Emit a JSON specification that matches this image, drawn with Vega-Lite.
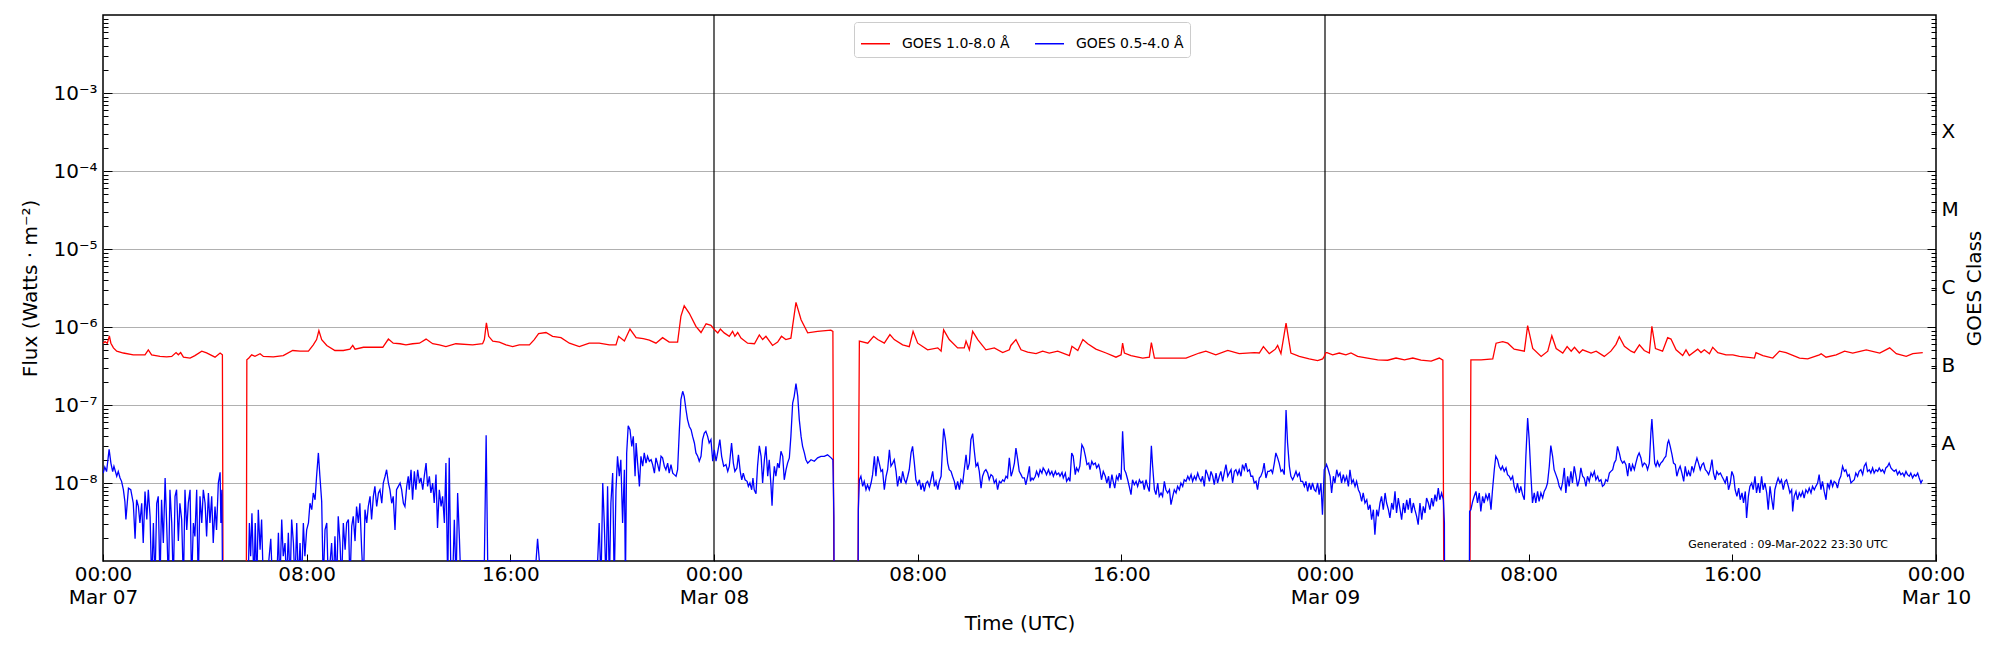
{
  "$schema": "https://vega.github.io/schema/vega-lite/v6.json",
  "width": 1833,
  "height": 546,
  "autosize": {"type": "none"},
  "padding": {"left": 103, "top": 15, "right": 64, "bottom": 89},
  "background": "white",
  "datasets": {
    "days": [{"h": 24}, {"h": 48}],
    "note": [{"h": 66.19, "f": 1.62e-9, "label": "Generated : 09-Mar-2022 23:30 UTC"}],
    "red": [
      {"h":0.01,"f":6.2e-7},{"h":0.08,"f":6.5e-7},{"h":0.17,"f":6.2e-7},{"h":0.25,"f":7.7e-7},{"h":0.31,"f":6.2e-7},{"h":0.41,"f":5.4e-7},{"h":0.54,"f":4.9e-7},{"h":0.8,"f":4.64e-7},{"h":1.19,"f":4.4e-7},{"h":1.65,"f":4.4e-7},{"h":1.78,"f":5.1e-7},{"h":1.91,"f":4.4e-7},{"h":2.24,"f":4.2e-7},{"h":2.5,"f":4.15e-7},{"h":2.7,"f":4.2e-7},{"h":2.87,"f":4.7e-7},{"h":2.96,"f":4.4e-7},{"h":3.05,"f":4.7e-7},{"h":3.16,"f":4.1e-7},{"h":3.42,"f":4.0e-7},{"h":3.61,"f":4.3e-7},{"h":3.88,"f":4.9e-7},{"h":4.07,"f":4.65e-7},{"h":4.4,"f":4.1e-7},{"h":4.6,"f":4.64e-7},{"h":4.69,"f":4.4e-7},{"h":4.73,"f":1e-11},{"h":5.62,"f":1e-11},{"h":5.65,"f":3.8e-7},{"h":5.73,"f":4.0e-7},{"h":5.84,"f":4.4e-7},{"h":5.97,"f":4.2e-7},{"h":6.17,"f":4.55e-7},{"h":6.3,"f":4.2e-7},{"h":6.69,"f":4.15e-7},{"h":7.08,"f":4.3e-7},{"h":7.45,"f":5.0e-7},{"h":7.74,"f":4.9e-7},{"h":8.07,"f":4.9e-7},{"h":8.26,"f":5.9e-7},{"h":8.39,"f":6.9e-7},{"h":8.48,"f":9.0e-7},{"h":8.59,"f":6.9e-7},{"h":8.79,"f":5.8e-7},{"h":9.11,"f":5.0e-7},{"h":9.44,"f":5.0e-7},{"h":9.7,"f":5.2e-7},{"h":9.81,"f":5.8e-7},{"h":9.9,"f":5.2e-7},{"h":10.23,"f":5.5e-7},{"h":10.75,"f":5.5e-7},{"h":10.99,"f":5.5e-7},{"h":11.21,"f":7.0e-7},{"h":11.4,"f":6.2e-7},{"h":11.67,"f":6.1e-7},{"h":11.9,"f":5.9e-7},{"h":12.16,"f":6.1e-7},{"h":12.43,"f":6.2e-7},{"h":12.69,"f":7.0e-7},{"h":12.95,"f":6.1e-7},{"h":13.21,"f":5.9e-7},{"h":13.47,"f":5.6e-7},{"h":13.86,"f":6.1e-7},{"h":14.52,"f":5.9e-7},{"h":14.91,"f":6.1e-7},{"h":14.98,"f":6.9e-7},{"h":15.06,"f":1.13e-6},{"h":15.15,"f":7.6e-7},{"h":15.31,"f":6.6e-7},{"h":15.57,"f":6.4e-7},{"h":15.83,"f":5.9e-7},{"h":16.09,"f":5.6e-7},{"h":16.35,"f":5.9e-7},{"h":16.75,"f":5.9e-7},{"h":16.94,"f":6.9e-7},{"h":17.11,"f":8.2e-7},{"h":17.4,"f":8.5e-7},{"h":17.66,"f":7.6e-7},{"h":17.99,"f":7.3e-7},{"h":18.32,"f":6.2e-7},{"h":18.71,"f":5.6e-7},{"h":19.1,"f":6.2e-7},{"h":19.49,"f":6.2e-7},{"h":19.89,"f":5.9e-7},{"h":20.15,"f":5.9e-7},{"h":20.25,"f":7.6e-7},{"h":20.48,"f":6.6e-7},{"h":20.7,"f":9.4e-7},{"h":20.94,"f":7.3e-7},{"h":21.22,"f":7.1e-7},{"h":21.46,"f":6.8e-7},{"h":21.72,"f":6.2e-7},{"h":21.98,"f":7.3e-7},{"h":22.24,"f":6.4e-7},{"h":22.57,"f":6.4e-7},{"h":22.7,"f":1.37e-6},{"h":22.83,"f":1.87e-6},{"h":23.03,"f":1.5e-6},{"h":23.29,"f":1.02e-6},{"h":23.49,"f":8.5e-7},{"h":23.69,"f":1.1e-6},{"h":23.88,"f":1.05e-6},{"h":24.01,"f":9.3e-7},{"h":24.15,"f":8.4e-7},{"h":24.25,"f":9.4e-7},{"h":24.4,"f":8.4e-7},{"h":24.6,"f":7.6e-7},{"h":24.73,"f":8.8e-7},{"h":24.82,"f":7.6e-7},{"h":24.93,"f":8.5e-7},{"h":25.06,"f":7.2e-7},{"h":25.32,"f":6.2e-7},{"h":25.59,"f":6.1e-7},{"h":25.78,"f":7.9e-7},{"h":25.91,"f":6.9e-7},{"h":26.04,"f":7.6e-7},{"h":26.3,"f":5.8e-7},{"h":26.5,"f":6.4e-7},{"h":26.65,"f":7.6e-7},{"h":26.82,"f":6.9e-7},{"h":27.02,"f":7.2e-7},{"h":27.22,"f":2.07e-6},{"h":27.42,"f":1.24e-6},{"h":27.68,"f":8.4e-7},{"h":28.07,"f":8.8e-7},{"h":28.59,"f":9.1e-7},{"h":28.67,"f":8.8e-7},{"h":28.73,"f":1e-11},{"h":29.62,"f":1e-11},{"h":29.71,"f":6.6e-7},{"h":30.04,"f":6.2e-7},{"h":30.27,"f":7.6e-7},{"h":30.43,"f":6.9e-7},{"h":30.69,"f":6.2e-7},{"h":30.91,"f":8.0e-7},{"h":31.08,"f":6.9e-7},{"h":31.41,"f":5.9e-7},{"h":31.67,"f":5.6e-7},{"h":31.82,"f":8.8e-7},{"h":32.0,"f":6.2e-7},{"h":32.39,"f":5.1e-7},{"h":32.79,"f":5.4e-7},{"h":32.92,"f":4.9e-7},{"h":33.02,"f":9.2e-7},{"h":33.24,"f":6.9e-7},{"h":33.57,"f":5.4e-7},{"h":33.83,"f":5.4e-7},{"h":33.9,"f":6.6e-7},{"h":34.03,"f":5.1e-7},{"h":34.16,"f":8.8e-7},{"h":34.36,"f":6.9e-7},{"h":34.68,"f":5.1e-7},{"h":35.01,"f":5.4e-7},{"h":35.34,"f":4.7e-7},{"h":35.6,"f":5.1e-7},{"h":35.66,"f":5.8e-7},{"h":35.86,"f":6.9e-7},{"h":36.06,"f":5.1e-7},{"h":36.32,"f":4.75e-7},{"h":36.65,"f":4.55e-7},{"h":36.91,"f":4.9e-7},{"h":37.17,"f":4.64e-7},{"h":37.5,"f":4.9e-7},{"h":37.96,"f":4.3e-7},{"h":38.06,"f":5.65e-7},{"h":38.29,"f":5.0e-7},{"h":38.49,"f":6.9e-7},{"h":38.68,"f":6.1e-7},{"h":39.0,"f":5.2e-7},{"h":39.4,"f":4.64e-7},{"h":39.79,"f":4.1e-7},{"h":39.99,"f":4.4e-7},{"h":40.05,"f":6.2e-7},{"h":40.12,"f":4.64e-7},{"h":40.38,"f":4.3e-7},{"h":40.84,"f":4.0e-7},{"h":41.1,"f":4.1e-7},{"h":41.18,"f":6.3e-7},{"h":41.3,"f":4.0e-7},{"h":41.62,"f":4.0e-7},{"h":42.01,"f":4.0e-7},{"h":42.54,"f":4.0e-7},{"h":43.06,"f":4.64e-7},{"h":43.32,"f":4.9e-7},{"h":43.71,"f":4.4e-7},{"h":44.18,"f":5.0e-7},{"h":44.63,"f":4.55e-7},{"h":45.22,"f":4.7e-7},{"h":45.42,"f":4.64e-7},{"h":45.58,"f":5.6e-7},{"h":45.81,"f":4.55e-7},{"h":46.05,"f":5.2e-7},{"h":46.14,"f":5.8e-7},{"h":46.27,"f":4.55e-7},{"h":46.47,"f":1.12e-6},{"h":46.66,"f":4.64e-7},{"h":46.99,"f":4.2e-7},{"h":47.38,"f":3.9e-7},{"h":47.71,"f":3.7e-7},{"h":47.91,"f":3.9e-7},{"h":47.97,"f":4.2e-7},{"h":48.04,"f":4.7e-7},{"h":48.08,"f":4.7e-7},{"h":48.3,"f":4.4e-7},{"h":48.56,"f":4.64e-7},{"h":48.82,"f":4.4e-7},{"h":49.02,"f":4.64e-7},{"h":49.28,"f":4.2e-7},{"h":49.67,"f":4.0e-7},{"h":50.07,"f":3.8e-7},{"h":50.46,"f":3.75e-7},{"h":50.79,"f":4.0e-7},{"h":51.12,"f":3.8e-7},{"h":51.45,"f":4.0e-7},{"h":51.77,"f":3.75e-7},{"h":52.17,"f":3.65e-7},{"h":52.49,"f":4.0e-7},{"h":52.63,"f":3.75e-7},{"h":52.69,"f":1e-11},{"h":53.67,"f":1e-11},{"h":53.73,"f":3.8e-7},{"h":54.13,"f":3.8e-7},{"h":54.59,"f":3.9e-7},{"h":54.72,"f":6.2e-7},{"h":54.98,"f":6.5e-7},{"h":55.18,"f":6.2e-7},{"h":55.43,"f":5.2e-7},{"h":55.83,"f":4.9e-7},{"h":55.96,"f":1.04e-6},{"h":56.16,"f":5.3e-7},{"h":56.49,"f":4.2e-7},{"h":56.75,"f":4.9e-7},{"h":56.91,"f":7.7e-7},{"h":57.08,"f":5.3e-7},{"h":57.34,"f":4.64e-7},{"h":57.51,"f":5.6e-7},{"h":57.67,"f":4.9e-7},{"h":57.8,"f":5.5e-7},{"h":57.99,"f":4.64e-7},{"h":58.12,"f":5.1e-7},{"h":58.45,"f":4.64e-7},{"h":58.65,"f":4.9e-7},{"h":58.97,"f":4.2e-7},{"h":59.23,"f":4.9e-7},{"h":59.43,"f":6.0e-7},{"h":59.56,"f":7.5e-7},{"h":59.76,"f":5.65e-7},{"h":60.02,"f":4.9e-7},{"h":60.15,"f":4.7e-7},{"h":60.35,"f":5.9e-7},{"h":60.54,"f":5.0e-7},{"h":60.74,"f":4.64e-7},{"h":60.84,"f":1.02e-6},{"h":60.98,"f":5.3e-7},{"h":61.26,"f":4.9e-7},{"h":61.46,"f":7.3e-7},{"h":61.59,"f":7.0e-7},{"h":61.79,"f":5.1e-7},{"h":62.05,"f":4.3e-7},{"h":62.18,"f":5.1e-7},{"h":62.31,"f":4.3e-7},{"h":62.64,"f":5.2e-7},{"h":62.77,"f":4.7e-7},{"h":62.9,"f":5.1e-7},{"h":63.1,"f":4.55e-7},{"h":63.23,"f":5.5e-7},{"h":63.43,"f":4.7e-7},{"h":63.75,"f":4.4e-7},{"h":64.02,"f":4.4e-7},{"h":64.28,"f":4.2e-7},{"h":64.87,"f":4.0e-7},{"h":64.93,"f":4.7e-7},{"h":65.2,"f":4.3e-7},{"h":65.59,"f":4.0e-7},{"h":65.85,"f":4.9e-7},{"h":66.11,"f":4.7e-7},{"h":66.64,"f":4.0e-7},{"h":66.96,"f":3.9e-7},{"h":67.42,"f":4.4e-7},{"h":67.49,"f":4.55e-7},{"h":67.68,"f":4.1e-7},{"h":68.08,"f":4.4e-7},{"h":68.41,"f":4.9e-7},{"h":68.73,"f":4.64e-7},{"h":69.26,"f":5.1e-7},{"h":69.79,"f":4.64e-7},{"h":70.18,"f":5.4e-7},{"h":70.44,"f":4.55e-7},{"h":70.83,"f":4.2e-7},{"h":71.09,"f":4.55e-7},{"h":71.48,"f":4.7e-7}
    ],
    "blue": [
      {"h":0.01,"f":1.34e-8},{"h":0.07,"f":1.6e-8},{"h":0.14,"f":1.4e-8},{"h":0.24,"f":2.7e-8},{"h":0.31,"f":1.8e-8},{"h":0.38,"f":1.4e-8},{"h":0.43,"f":1.64e-8},{"h":0.54,"f":1.22e-8},{"h":0.6,"f":1.4e-8},{"h":0.67,"f":1.16e-8},{"h":0.73,"f":1.05e-8},{"h":0.8,"f":8.2e-9},{"h":0.86,"f":5.8e-9},{"h":0.9,"f":3.4e-9},{"h":1.0,"f":8.6e-9},{"h":1.09,"f":8.2e-9},{"h":1.19,"f":5.5e-9},{"h":1.26,"f":1.93e-9},{"h":1.32,"f":6.1e-9},{"h":1.39,"f":5.0e-9},{"h":1.45,"f":3.07e-9},{"h":1.52,"f":5.5e-9},{"h":1.58,"f":1.7e-9},{"h":1.65,"f":7.8e-9},{"h":1.72,"f":3.4e-9},{"h":1.78,"f":8.2e-9},{"h":1.85,"f":3.7e-9},{"h":1.91,"f":5e-10},{"h":1.98,"f":3.07e-9},{"h":2.04,"f":5e-10},{"h":2.11,"f":5.5e-9},{"h":2.17,"f":6.75e-9},{"h":2.24,"f":5e-10},{"h":2.3,"f":6.1e-9},{"h":2.37,"f":1.7e-9},{"h":2.44,"f":1.16e-8},{"h":2.5,"f":3.07e-9},{"h":2.57,"f":5e-10},{"h":2.63,"f":8.2e-9},{"h":2.7,"f":3.07e-9},{"h":2.76,"f":5e-10},{"h":2.83,"f":6.75e-9},{"h":2.89,"f":8.2e-9},{"h":2.96,"f":1.8e-9},{"h":3.02,"f":5.5e-9},{"h":3.09,"f":3.4e-9},{"h":3.16,"f":5e-10},{"h":3.22,"f":8.2e-9},{"h":3.29,"f":2.5e-9},{"h":3.35,"f":5.5e-9},{"h":3.42,"f":8.2e-9},{"h":3.48,"f":5e-10},{"h":3.55,"f":3.07e-9},{"h":3.61,"f":2.07e-9},{"h":3.68,"f":8.2e-9},{"h":3.74,"f":5e-10},{"h":3.81,"f":6.75e-9},{"h":3.88,"f":3.07e-9},{"h":3.94,"f":8.2e-9},{"h":4.01,"f":5.5e-9},{"h":4.07,"f":2.07e-9},{"h":4.14,"f":7.45e-9},{"h":4.2,"f":3.07e-9},{"h":4.27,"f":6.75e-9},{"h":4.33,"f":1.7e-9},{"h":4.4,"f":5.0e-9},{"h":4.46,"f":2.5e-9},{"h":4.53,"f":1.0e-8},{"h":4.6,"f":1.37e-8},{"h":4.63,"f":3.07e-9},{"h":4.67,"f":8.2e-9},{"h":4.73,"f":1e-11},{"h":5.64,"f":1e-11},{"h":5.7,"f":5e-10},{"h":5.75,"f":3.07e-9},{"h":5.8,"f":1.15e-9},{"h":5.85,"f":4.1e-9},{"h":5.93,"f":5e-10},{"h":5.98,"f":3.07e-9},{"h":6.04,"f":5e-10},{"h":6.1,"f":4.55e-9},{"h":6.17,"f":1.4e-9},{"h":6.23,"f":3.4e-9},{"h":6.3,"f":5e-10},{"h":6.43,"f":5e-10},{"h":6.59,"f":1.93e-9},{"h":6.66,"f":5e-10},{"h":6.82,"f":5e-10},{"h":6.89,"f":2.3e-9},{"h":6.95,"f":5e-10},{"h":7.02,"f":3.4e-9},{"h":7.08,"f":1.15e-9},{"h":7.15,"f":1.7e-9},{"h":7.21,"f":5e-10},{"h":7.28,"f":2.3e-9},{"h":7.35,"f":5e-10},{"h":7.41,"f":3.4e-9},{"h":7.48,"f":1.7e-9},{"h":7.54,"f":5e-10},{"h":7.61,"f":3.07e-9},{"h":7.67,"f":5e-10},{"h":7.74,"f":1.7e-9},{"h":7.8,"f":5e-10},{"h":7.87,"f":3.07e-9},{"h":7.93,"f":1.15e-9},{"h":8.0,"f":2.5e-9},{"h":8.07,"f":3.07e-9},{"h":8.13,"f":5.5e-9},{"h":8.2,"f":4.55e-9},{"h":8.26,"f":7.45e-9},{"h":8.33,"f":6.1e-9},{"h":8.39,"f":1.22e-8},{"h":8.46,"f":2.43e-8},{"h":8.52,"f":1.22e-8},{"h":8.59,"f":5.8e-9},{"h":8.65,"f":5e-10},{"h":8.72,"f":2.5e-9},{"h":8.79,"f":3.07e-9},{"h":8.85,"f":5e-10},{"h":8.98,"f":1.7e-9},{"h":9.05,"f":5e-10},{"h":9.11,"f":2.07e-9},{"h":9.18,"f":5e-10},{"h":9.24,"f":3.74e-9},{"h":9.31,"f":1.7e-9},{"h":9.37,"f":5e-10},{"h":9.44,"f":3.07e-9},{"h":9.51,"f":1.4e-9},{"h":9.57,"f":3.07e-9},{"h":9.64,"f":3.4e-9},{"h":9.7,"f":5e-10},{"h":9.77,"f":2.8e-9},{"h":9.83,"f":3.74e-9},{"h":9.9,"f":1.8e-9},{"h":9.96,"f":5.0e-9},{"h":10.03,"f":3.07e-9},{"h":10.09,"f":5.5e-9},{"h":10.16,"f":1.4e-9},{"h":10.23,"f":5e-10},{"h":10.29,"f":4.55e-9},{"h":10.36,"f":3.07e-9},{"h":10.42,"f":5.0e-9},{"h":10.49,"f":6.75e-9},{"h":10.55,"f":3.4e-9},{"h":10.62,"f":6.75e-9},{"h":10.68,"f":9.06e-9},{"h":10.75,"f":5.0e-9},{"h":10.82,"f":7.45e-9},{"h":10.88,"f":8.2e-9},{"h":10.95,"f":5.5e-9},{"h":11.01,"f":1.0e-8},{"h":11.08,"f":1.22e-8},{"h":11.14,"f":1.48e-8},{"h":11.21,"f":1.0e-8},{"h":11.27,"f":8.2e-9},{"h":11.34,"f":5.5e-9},{"h":11.4,"f":6.75e-9},{"h":11.47,"f":2.5e-9},{"h":11.53,"f":8.2e-9},{"h":11.6,"f":9.06e-9},{"h":11.67,"f":1.0e-8},{"h":11.73,"f":8.2e-9},{"h":11.8,"f":5.5e-9},{"h":11.86,"f":5.0e-9},{"h":11.93,"f":9.06e-9},{"h":11.99,"f":1.22e-8},
      {"h":12.03,"f":8.2e-9},{"h":12.1,"f":1.48e-8},{"h":12.16,"f":6.1e-9},{"h":12.23,"f":1.41e-8},{"h":12.29,"f":8.2e-9},{"h":12.36,"f":1.48e-8},{"h":12.43,"f":1.0e-8},{"h":12.49,"f":1.16e-8},{"h":12.56,"f":8.2e-9},{"h":12.62,"f":1.22e-8},{"h":12.69,"f":1.8e-8},{"h":12.75,"f":9.06e-9},{"h":12.82,"f":1.22e-8},{"h":12.88,"f":7.45e-9},{"h":12.95,"f":1.0e-8},{"h":13.01,"f":5.54e-9},{"h":13.08,"f":1.28e-8},{"h":13.14,"f":2.65e-9},{"h":13.21,"f":8.2e-9},{"h":13.28,"f":5.02e-9},{"h":13.34,"f":6.75e-9},{"h":13.41,"f":3.07e-9},{"h":13.47,"f":1.8e-8},{"h":13.54,"f":5e-10},{"h":13.6,"f":2.1e-8},{"h":13.67,"f":5e-10},{"h":13.73,"f":5e-10},{"h":13.8,"f":3.39e-9},{"h":13.87,"f":5e-10},{"h":13.93,"f":7.45e-9},{"h":14.0,"f":1.93e-9},{"h":14.06,"f":5e-10},{"h":14.13,"f":1e-9},{"h":14.98,"f":1e-9},{"h":15.05,"f":4.1e-8},{"h":15.11,"f":1e-9},{"h":17.01,"f":1e-9},{"h":17.07,"f":1.93e-9},{"h":17.14,"f":1e-9},{"h":19.43,"f":1e-9},{"h":19.49,"f":3.07e-9},{"h":19.56,"f":5e-10},{"h":19.63,"f":1.0e-8},{"h":19.69,"f":3.07e-9},{"h":19.76,"f":5e-10},{"h":19.82,"f":9.06e-9},{"h":19.89,"f":5e-10},{"h":19.95,"f":5.54e-9},{"h":20.02,"f":1.34e-8},{"h":20.08,"f":5e-10},{"h":20.15,"f":8.2e-9},{"h":20.21,"f":2.2e-8},{"h":20.28,"f":1.22e-8},{"h":20.34,"f":1.99e-8},{"h":20.41,"f":3.07e-9},{"h":20.48,"f":1.48e-8},{"h":20.52,"f":5e-10},{"h":20.57,"f":2.43e-8},{"h":20.63,"f":5.4e-8},{"h":20.7,"f":4.83e-8},{"h":20.77,"f":2.95e-8},{"h":20.83,"f":3.96e-8},{"h":20.9,"f":1.22e-8},{"h":20.94,"f":3.26e-8},{"h":21.0,"f":1.8e-8},{"h":21.07,"f":9.06e-9},{"h":21.13,"f":2.2e-8},{"h":21.2,"f":1.64e-8},{"h":21.26,"f":2.43e-8},{"h":21.33,"f":1.8e-8},{"h":21.39,"f":2.2e-8},{"h":21.46,"f":1.9e-8},{"h":21.53,"f":1.99e-8},{"h":21.59,"f":1.72e-8},{"h":21.66,"f":1.34e-8},{"h":21.72,"f":2.1e-8},{"h":21.79,"f":1.72e-8},{"h":21.85,"f":1.41e-8},{"h":21.92,"f":2.2e-8},{"h":21.98,"f":2.1e-8},{"h":22.05,"f":1.64e-8},{"h":22.11,"f":1.48e-8},{"h":22.18,"f":1.8e-8},{"h":22.24,"f":1.34e-8},{"h":22.31,"f":1.72e-8},{"h":22.38,"f":1.34e-8},{"h":22.44,"f":1.28e-8},{"h":22.51,"f":1.22e-8},{"h":22.57,"f":1.48e-8},{"h":22.64,"f":4.83e-8},{"h":22.7,"f":1.17e-7},{"h":22.77,"f":1.5e-7},{"h":22.83,"f":1.29e-7},{"h":22.9,"f":8.7e-8},{"h":22.96,"f":6.5e-8},{"h":23.03,"f":5.3e-8},{"h":23.1,"f":4.83e-8},{"h":23.16,"f":3.96e-8},{"h":23.23,"f":3.26e-8},{"h":23.29,"f":2.43e-8},{"h":23.36,"f":2.2e-8},{"h":23.42,"f":1.9e-8},{"h":23.49,"f":2.2e-8},{"h":23.55,"f":3.6e-8},{"h":23.62,"f":4.38e-8},{"h":23.68,"f":4.6e-8},{"h":23.75,"f":3.96e-8},{"h":23.81,"f":3.26e-8},{"h":23.88,"f":3.6e-8},
      {"h":23.95,"f":1.9e-8},{"h":24.01,"f":2.67e-8},{"h":24.08,"f":1.9e-8},{"h":24.14,"f":2.43e-8},{"h":24.23,"f":3.6e-8},{"h":24.3,"f":2.2e-8},{"h":24.38,"f":1.64e-8},{"h":24.47,"f":1.72e-8},{"h":24.54,"f":1.41e-8},{"h":24.6,"f":1.64e-8},{"h":24.69,"f":3.26e-8},{"h":24.76,"f":1.8e-8},{"h":24.82,"f":1.41e-8},{"h":24.9,"f":1.56e-8},{"h":24.96,"f":2.3e-8},{"h":25.03,"f":1.41e-8},{"h":25.09,"f":1.1e-8},{"h":25.15,"f":1.34e-8},{"h":25.22,"f":1.1e-8},{"h":25.3,"f":1.05e-8},{"h":25.35,"f":9.06e-9},{"h":25.41,"f":1.0e-8},{"h":25.48,"f":8.2e-9},{"h":25.53,"f":1.16e-8},{"h":25.58,"f":8.2e-9},{"h":25.65,"f":7.3e-9},{"h":25.71,"f":1.64e-8},{"h":25.78,"f":3.0e-8},{"h":25.85,"f":2.2e-8},{"h":25.91,"f":1.0e-8},{"h":25.98,"f":1.99e-8},{"h":26.04,"f":2.95e-8},{"h":26.11,"f":1.22e-8},{"h":26.17,"f":1.99e-8},{"h":26.24,"f":9.06e-9},{"h":26.28,"f":5.12e-9},{"h":26.32,"f":1.0e-8},{"h":26.37,"f":1.64e-8},{"h":26.43,"f":1.22e-8},{"h":26.5,"f":1.8e-8},{"h":26.56,"f":1.56e-8},{"h":26.63,"f":2.55e-8},{"h":26.7,"f":2.2e-8},{"h":26.76,"f":1.1e-8},{"h":26.83,"f":1.48e-8},{"h":26.89,"f":1.8e-8},{"h":26.96,"f":2.1e-8},{"h":27.02,"f":3.96e-8},{"h":27.09,"f":1.06e-7},{"h":27.15,"f":1.29e-7},{"h":27.22,"f":1.88e-7},{"h":27.29,"f":1.29e-7},{"h":27.35,"f":6.5e-8},{"h":27.42,"f":3.96e-8},{"h":27.48,"f":2.95e-8},{"h":27.55,"f":2.43e-8},{"h":27.61,"f":1.99e-8},{"h":27.68,"f":1.8e-8},{"h":27.81,"f":1.99e-8},{"h":27.94,"f":1.9e-8},{"h":28.07,"f":2.1e-8},{"h":28.2,"f":2.2e-8},{"h":28.33,"f":2.2e-8},{"h":28.46,"f":2.3e-8},{"h":28.6,"f":2.1e-8},{"h":28.67,"f":1.99e-8},{"h":28.71,"f":3.74e-9},{"h":28.73,"f":1e-11},{"h":29.64,"f":1e-11},{"h":29.67,"f":4.55e-9},{"h":29.71,"f":1.1e-8},{"h":29.77,"f":1.22e-8},{"h":29.84,"f":9.06e-9},{"h":29.9,"f":1.05e-8},{"h":29.97,"f":8.2e-9},{"h":30.03,"f":9.5e-9},{"h":30.1,"f":8.2e-9},{"h":30.17,"f":1.0e-8},{"h":30.23,"f":1.28e-8},{"h":30.3,"f":2.2e-8},{"h":30.36,"f":1.22e-8},{"h":30.43,"f":2.2e-8},{"h":30.49,"f":1.8e-8},{"h":30.56,"f":1.41e-8},{"h":30.62,"f":1.48e-8},{"h":30.69,"f":8.2e-9},{"h":30.76,"f":1.22e-8},{"h":30.82,"f":1.48e-8},{"h":30.89,"f":2.67e-8},{"h":30.95,"f":1.64e-8},{"h":31.02,"f":1.8e-8},{"h":31.08,"f":1.99e-8},{"h":31.15,"f":1.41e-8},{"h":31.21,"f":9.06e-9},{"h":31.28,"f":1.22e-8},{"h":31.35,"f":1.0e-8},{"h":31.41,"f":1.41e-8},{"h":31.48,"f":1.1e-8},{"h":31.54,"f":1.0e-8},{"h":31.61,"f":1.22e-8},{"h":31.67,"f":1.48e-8},{"h":31.74,"f":2.43e-8},{"h":31.8,"f":2.95e-8},{"h":31.87,"f":1.8e-8},{"h":31.93,"f":1.1e-8},{"h":32.0,"f":9.5e-9},{"h":32.07,"f":1.1e-8},{"h":32.13,"f":8.2e-9},{"h":32.2,"f":1.0e-8},{"h":32.26,"f":7.8e-9},{"h":32.33,"f":1.0e-8},{"h":32.39,"f":1.05e-8},{"h":32.46,"f":9.06e-9},{"h":32.52,"f":1.1e-8},{"h":32.59,"f":1.41e-8},{"h":32.66,"f":9.06e-9},{"h":32.72,"f":1.05e-8},{"h":32.79,"f":8.2e-9},{"h":32.85,"f":1.05e-8},{"h":32.92,"f":1.22e-8},{"h":32.98,"f":2.95e-8},{"h":33.02,"f":5.0e-8},{"h":33.09,"f":3.6e-8},{"h":33.18,"f":1.8e-8},{"h":33.24,"f":1.48e-8},{"h":33.31,"f":1.41e-8},{"h":33.37,"f":1.22e-8},{"h":33.44,"f":1.05e-8},{"h":33.5,"f":8.2e-9},{"h":33.57,"f":1.05e-8},{"h":33.64,"f":8.2e-9},{"h":33.7,"f":1.1e-8},{"h":33.77,"f":1.0e-8},{"h":33.83,"f":1.48e-8},{"h":33.9,"f":2.3e-8},{"h":33.96,"f":1.48e-8},{"h":34.03,"f":1.8e-8},{"h":34.09,"f":3.6e-8},{"h":34.16,"f":4.3e-8},{"h":34.22,"f":2.67e-8},{"h":34.29,"f":1.64e-8},{"h":34.36,"f":1.8e-8},{"h":34.42,"f":1.41e-8},{"h":34.49,"f":8.6e-9},{"h":34.55,"f":1.22e-8},{"h":34.62,"f":1.41e-8},{"h":34.68,"f":1.48e-8},{"h":34.75,"f":1.34e-8},{"h":34.81,"f":1.1e-8},{"h":34.88,"f":1.28e-8},{"h":34.95,"f":1.22e-8},{"h":35.01,"f":1.0e-8},{"h":35.08,"f":1.1e-8},{"h":35.14,"f":8.2e-9},{"h":35.21,"f":1.05e-8},{"h":35.27,"f":1.0e-8},{"h":35.34,"f":1.1e-8},{"h":35.4,"f":1.05e-8},{"h":35.47,"f":1.22e-8},{"h":35.53,"f":1.16e-8},{"h":35.6,"f":2.1e-8},{"h":35.67,"f":1.22e-8},{"h":35.73,"f":1.41e-8},{"h":35.8,"f":1.8e-8},{"h":35.86,"f":2.8e-8},{"h":35.93,"f":1.99e-8},{"h":35.99,"f":1.41e-8},{"h":36.06,"f":1.28e-8},{"h":36.12,"f":1.16e-8},
      {"h":36.19,"f":1.16e-8},{"h":36.25,"f":9.5e-9},{"h":36.32,"f":1.22e-8},{"h":36.39,"f":1.64e-8},{"h":36.43,"f":1.05e-8},{"h":36.49,"f":1.16e-8},{"h":36.54,"f":1.1e-8},{"h":36.62,"f":1.22e-8},{"h":36.67,"f":1.41e-8},{"h":36.75,"f":1.22e-8},{"h":36.81,"f":1.48e-8},{"h":36.88,"f":1.34e-8},{"h":36.93,"f":1.56e-8},{"h":37.01,"f":1.41e-8},{"h":37.06,"f":1.28e-8},{"h":37.14,"f":1.48e-8},{"h":37.2,"f":1.28e-8},{"h":37.27,"f":1.41e-8},{"h":37.33,"f":1.22e-8},{"h":37.41,"f":1.41e-8},{"h":37.46,"f":1.28e-8},{"h":37.54,"f":1.34e-8},{"h":37.59,"f":1.22e-8},{"h":37.67,"f":1.37e-8},{"h":37.72,"f":1.16e-8},{"h":37.8,"f":1.34e-8},{"h":37.85,"f":1.05e-8},{"h":37.93,"f":1.16e-8},{"h":37.98,"f":1.05e-8},{"h":38.05,"f":2.43e-8},{"h":38.11,"f":2.2e-8},{"h":38.19,"f":1.28e-8},{"h":38.24,"f":1.56e-8},{"h":38.31,"f":1.41e-8},{"h":38.37,"f":1.64e-8},{"h":38.45,"f":3.1e-8},{"h":38.52,"f":2.8e-8},{"h":38.59,"f":2.2e-8},{"h":38.65,"f":1.72e-8},{"h":38.72,"f":1.8e-8},{"h":38.77,"f":1.48e-8},{"h":38.84,"f":1.9e-8},{"h":38.9,"f":1.72e-8},{"h":38.98,"f":1.8e-8},{"h":39.03,"f":1.56e-8},{"h":39.11,"f":1.72e-8},{"h":39.16,"f":1.48e-8},{"h":39.22,"f":1.1e-8},{"h":39.29,"f":1.41e-8},{"h":39.37,"f":1.22e-8},{"h":39.43,"f":1.0e-8},{"h":39.5,"f":1.22e-8},{"h":39.55,"f":8.6e-9},{"h":39.63,"f":1.28e-8},{"h":39.68,"f":1.05e-8},{"h":39.74,"f":8.6e-9},{"h":39.81,"f":1.22e-8},{"h":39.87,"f":1.1e-8},{"h":39.92,"f":1.34e-8},{"h":39.99,"f":1.1e-8},{"h":40.05,"f":4.6e-8},{"h":40.12,"f":1.48e-8},{"h":40.18,"f":1.34e-8},{"h":40.25,"f":1.1e-8},{"h":40.31,"f":9.06e-9},{"h":40.38,"f":7.1e-9},{"h":40.44,"f":1.1e-8},{"h":40.51,"f":9.5e-9},{"h":40.58,"f":1.05e-8},{"h":40.64,"f":9.06e-9},{"h":40.71,"f":1.1e-8},{"h":40.77,"f":1.0e-8},{"h":40.84,"f":1.05e-8},{"h":40.9,"f":8.2e-9},{"h":40.97,"f":1.1e-8},{"h":41.03,"f":9.06e-9},{"h":41.1,"f":7.8e-9},{"h":41.18,"f":3.0e-8},{"h":41.23,"f":1.64e-8},{"h":41.3,"f":8.2e-9},{"h":41.36,"f":7.1e-9},{"h":41.43,"f":1.0e-8},{"h":41.49,"f":6.75e-9},{"h":41.56,"f":7.45e-9},{"h":41.62,"f":6.75e-9},{"h":41.69,"f":1.05e-8},{"h":41.75,"f":8.2e-9},{"h":41.82,"f":7.45e-9},{"h":41.89,"f":8.2e-9},{"h":41.95,"f":5.27e-9},{"h":42.02,"f":6.75e-9},{"h":42.08,"f":8.2e-9},{"h":42.15,"f":7.45e-9},{"h":42.21,"f":9.06e-9},{"h":42.28,"f":8.2e-9},{"h":42.34,"f":1.0e-8},{"h":42.41,"f":9.06e-9},{"h":42.47,"f":1.1e-8},{"h":42.54,"f":1.05e-8},{"h":42.61,"f":1.22e-8},{"h":42.67,"f":1.1e-8},{"h":42.74,"f":1.28e-8},{"h":42.8,"f":1.05e-8},{"h":42.87,"f":1.22e-8},{"h":42.93,"f":1.1e-8},{"h":43.0,"f":1.34e-8},{"h":43.06,"f":1.16e-8},{"h":43.13,"f":1.05e-8},{"h":43.19,"f":1.22e-8},{"h":43.26,"f":9.06e-9},{"h":43.32,"f":1.48e-8},{"h":43.39,"f":1.28e-8},{"h":43.46,"f":1.05e-8},{"h":43.52,"f":1.41e-8},{"h":43.59,"f":1.22e-8},{"h":43.65,"f":9.5e-9},{"h":43.72,"f":1.34e-8},{"h":43.78,"f":1.0e-8},{"h":43.85,"f":1.22e-8},{"h":43.91,"f":1.41e-8},{"h":43.98,"f":1.05e-8},{"h":44.04,"f":1.34e-8},{"h":44.11,"f":1.72e-8},{"h":44.18,"f":1.22e-8},{"h":44.24,"f":1.34e-8},{"h":44.31,"f":1.48e-8},{"h":44.37,"f":1.0e-8},{"h":44.44,"f":1.41e-8},{"h":44.5,"f":1.48e-8},{"h":44.57,"f":1.28e-8},{"h":44.63,"f":1.48e-8},{"h":44.7,"f":1.22e-8},{"h":44.76,"f":1.72e-8},{"h":44.83,"f":1.48e-8},{"h":44.89,"f":1.8e-8},{"h":44.96,"f":1.41e-8},{"h":45.03,"f":1.48e-8},{"h":45.09,"f":1.22e-8},{"h":45.16,"f":1.22e-8},{"h":45.22,"f":1.0e-8},{"h":45.29,"f":1.05e-8},{"h":45.35,"f":8.2e-9},{"h":45.42,"f":1.16e-8},{"h":45.48,"f":1.22e-8},{"h":45.55,"f":1.41e-8},{"h":45.61,"f":1.8e-8},{"h":45.68,"f":1.16e-8},{"h":45.75,"f":1.41e-8},{"h":45.81,"f":1.41e-8},{"h":45.88,"f":1.48e-8},{"h":45.94,"f":1.34e-8},{"h":46.01,"f":1.8e-8},{"h":46.07,"f":2.43e-8},{"h":46.14,"f":2.1e-8},{"h":46.2,"f":1.8e-8},{"h":46.27,"f":1.41e-8},{"h":46.33,"f":1.48e-8},{"h":46.4,"f":1.28e-8},{"h":46.47,"f":8.6e-8},{"h":46.53,"f":3.26e-8},{"h":46.6,"f":1.64e-8},{"h":46.66,"f":1.22e-8},{"h":46.73,"f":1.1e-8},{"h":46.79,"f":1.22e-8},{"h":46.86,"f":1.41e-8},{"h":46.92,"f":1.22e-8},{"h":46.99,"f":1.34e-8},{"h":47.05,"f":1.05e-8},{"h":47.12,"f":1.05e-8},{"h":47.19,"f":9.06e-9},{"h":47.25,"f":1.05e-8},{"h":47.32,"f":7.8e-9},{"h":47.38,"f":1.0e-8},{"h":47.45,"f":8.2e-9},{"h":47.51,"f":1.0e-8},{"h":47.58,"f":8.2e-9},{"h":47.64,"f":7.8e-9},{"h":47.71,"f":1.0e-8},{"h":47.77,"f":7.1e-9},{"h":47.84,"f":1.0e-8},{"h":47.9,"f":3.93e-9},{"h":47.97,"f":1.48e-8},{"h":48.04,"f":1.64e-8},
      {"h":48.06,"f":1.72e-8},{"h":48.13,"f":1.48e-8},{"h":48.2,"f":1.22e-8},{"h":48.26,"f":7.45e-9},{"h":48.33,"f":1.22e-8},{"h":48.39,"f":1.0e-8},{"h":48.46,"f":1.48e-8},{"h":48.52,"f":1.22e-8},{"h":48.59,"f":1.34e-8},{"h":48.65,"f":1.0e-8},{"h":48.72,"f":1.28e-8},{"h":48.78,"f":1.05e-8},{"h":48.85,"f":1.22e-8},{"h":48.92,"f":9.06e-9},{"h":48.98,"f":1.48e-8},{"h":49.05,"f":1.0e-8},{"h":49.11,"f":1.1e-8},{"h":49.18,"f":9.06e-9},{"h":49.24,"f":1.05e-8},{"h":49.31,"f":8.2e-9},{"h":49.37,"f":7.45e-9},{"h":49.44,"f":5.8e-9},{"h":49.5,"f":7.45e-9},{"h":49.57,"f":5.54e-9},{"h":49.64,"f":6.1e-9},{"h":49.7,"f":4.55e-9},{"h":49.77,"f":5.27e-9},{"h":49.83,"f":3.39e-9},{"h":49.9,"f":4.55e-9},{"h":49.96,"f":2.18e-9},{"h":50.03,"f":4.55e-9},{"h":50.09,"f":3.74e-9},{"h":50.16,"f":5.54e-9},{"h":50.22,"f":6.75e-9},{"h":50.29,"f":4.55e-9},{"h":50.36,"f":7.45e-9},{"h":50.42,"f":5.54e-9},{"h":50.49,"f":4.55e-9},{"h":50.55,"f":3.56e-9},{"h":50.62,"f":5.54e-9},{"h":50.68,"f":4.55e-9},{"h":50.75,"f":7.8e-9},{"h":50.81,"f":4.12e-9},{"h":50.88,"f":6.42e-9},{"h":50.94,"f":4.78e-9},{"h":51.01,"f":3.39e-9},{"h":51.08,"f":5.54e-9},{"h":51.14,"f":4.12e-9},{"h":51.21,"f":6.1e-9},{"h":51.27,"f":4.55e-9},{"h":51.34,"f":6.42e-9},{"h":51.4,"f":4.12e-9},{"h":51.47,"f":5.54e-9},{"h":51.53,"f":4.55e-9},{"h":51.6,"f":3.74e-9},{"h":51.66,"f":2.92e-9},{"h":51.73,"f":5.54e-9},{"h":51.8,"f":3.39e-9},{"h":51.86,"f":5.02e-9},{"h":51.93,"f":4.12e-9},{"h":51.99,"f":6.42e-9},{"h":52.06,"f":5.54e-9},{"h":52.12,"f":4.55e-9},{"h":52.19,"f":6.42e-9},{"h":52.25,"f":5.02e-9},{"h":52.32,"f":7.1e-9},{"h":52.38,"f":5.8e-9},{"h":52.45,"f":8.6e-9},{"h":52.51,"f":6.1e-9},{"h":52.58,"f":7.45e-9},{"h":52.65,"f":6.1e-9},{"h":52.69,"f":3.07e-9},{"h":52.71,"f":1e-11},{"h":53.65,"f":1e-11},{"h":53.68,"f":4.33e-9},{"h":53.73,"f":4.55e-9},{"h":53.8,"f":5.8e-9},{"h":53.86,"f":6.75e-9},{"h":53.93,"f":7.8e-9},{"h":53.99,"f":5.54e-9},{"h":54.06,"f":7.45e-9},{"h":54.12,"f":4.33e-9},{"h":54.19,"f":6.75e-9},{"h":54.25,"f":5.54e-9},{"h":54.32,"f":7.1e-9},{"h":54.39,"f":6.1e-9},{"h":54.45,"f":7.45e-9},{"h":54.52,"f":4.55e-9},{"h":54.58,"f":8.2e-9},{"h":54.65,"f":1.48e-8},{"h":54.71,"f":2.2e-8},{"h":54.78,"f":1.99e-8},{"h":54.84,"f":1.64e-8},{"h":54.91,"f":1.48e-8},{"h":54.97,"f":1.64e-8},{"h":55.04,"f":1.41e-8},{"h":55.11,"f":1.56e-8},{"h":55.17,"f":1.28e-8},{"h":55.24,"f":1.22e-8},{"h":55.3,"f":1.1e-8},{"h":55.37,"f":1.22e-8},{"h":55.43,"f":9.06e-9},{"h":55.5,"f":7.8e-9},{"h":55.56,"f":1.0e-8},{"h":55.63,"f":7.45e-9},{"h":55.69,"f":9.06e-9},{"h":55.76,"f":7.1e-9},{"h":55.83,"f":6.1e-9},{"h":55.89,"f":2.2e-8},{"h":55.96,"f":6.81e-8},{"h":56.02,"f":3.6e-8},{"h":56.09,"f":1.22e-8},{"h":56.15,"f":5.54e-9},{"h":56.22,"f":7.45e-9},{"h":56.28,"f":5.54e-9},{"h":56.35,"f":7.8e-9},{"h":56.41,"f":5.8e-9},{"h":56.48,"f":7.45e-9},{"h":56.55,"f":6.42e-9},{"h":56.61,"f":7.8e-9},{"h":56.68,"f":8.6e-9},{"h":56.74,"f":1.0e-8},{"h":56.81,"f":1.64e-8},{"h":56.87,"f":3.01e-8},{"h":56.94,"f":2.2e-8},{"h":57.0,"f":1.48e-8},{"h":57.07,"f":1.28e-8},{"h":57.14,"f":1.1e-8},{"h":57.2,"f":9.06e-9},{"h":57.27,"f":8.2e-9},{"h":57.33,"f":1.0e-8},{"h":57.4,"f":1.56e-8},{"h":57.46,"f":7.45e-9},{"h":57.53,"f":1.22e-8},{"h":57.59,"f":9.06e-9},{"h":57.66,"f":1.41e-8},{"h":57.72,"f":1.0e-8},{"h":57.79,"f":1.64e-8},{"h":57.86,"f":1.22e-8},{"h":57.92,"f":9.06e-9},{"h":57.99,"f":1.1e-8},{"h":58.05,"f":1.56e-8},{"h":58.12,"f":1.22e-8},{"h":58.18,"f":1.16e-8},{"h":58.25,"f":9.06e-9},{"h":58.31,"f":1.22e-8},{"h":58.38,"f":1.05e-8},{"h":58.45,"f":1.34e-8},{"h":58.51,"f":1.22e-8},{"h":58.58,"f":1.41e-8},{"h":58.64,"f":1.1e-8},{"h":58.71,"f":1.22e-8},{"h":58.77,"f":1.05e-8},{"h":58.84,"f":1.1e-8},{"h":58.9,"f":9.06e-9},{"h":58.97,"f":9.5e-9},{"h":59.03,"f":1.1e-8},{"h":59.1,"f":1.05e-8},{"h":59.17,"f":1.34e-8},{"h":59.23,"f":1.41e-8},{"h":59.3,"f":1.48e-8},{"h":59.36,"f":1.8e-8},{"h":59.43,"f":1.99e-8},{"h":59.49,"f":2.95e-8},{"h":59.56,"f":2.43e-8},{"h":59.62,"f":1.99e-8},{"h":59.69,"f":1.8e-8},{"h":59.75,"f":1.9e-8},{"h":59.82,"f":1.72e-8},
      {"h":59.89,"f":1.22e-8},{"h":59.95,"f":1.8e-8},{"h":60.02,"f":1.41e-8},{"h":60.08,"f":1.72e-8},{"h":60.15,"f":1.48e-8},{"h":60.21,"f":1.8e-8},{"h":60.28,"f":2.2e-8},{"h":60.34,"f":2.43e-8},{"h":60.41,"f":2.09e-8},{"h":60.47,"f":1.64e-8},{"h":60.54,"f":1.8e-8},{"h":60.61,"f":1.72e-8},{"h":60.67,"f":1.48e-8},{"h":60.74,"f":1.8e-8},{"h":60.8,"f":4.38e-8},{"h":60.84,"f":6.62e-8},{"h":60.89,"f":3.6e-8},{"h":60.95,"f":1.8e-8},{"h":61.0,"f":1.64e-8},{"h":61.06,"f":1.9e-8},{"h":61.13,"f":1.64e-8},{"h":61.19,"f":1.8e-8},{"h":61.26,"f":1.9e-8},{"h":61.33,"f":2.09e-8},{"h":61.39,"f":2.2e-8},{"h":61.46,"f":3.26e-8},{"h":61.5,"f":3.52e-8},{"h":61.56,"f":2.95e-8},{"h":61.63,"f":2.31e-8},{"h":61.69,"f":1.8e-8},{"h":61.76,"f":1.72e-8},{"h":61.82,"f":1.22e-8},{"h":61.89,"f":1.48e-8},{"h":61.95,"f":1.64e-8},{"h":62.02,"f":1.34e-8},{"h":62.09,"f":1.05e-8},{"h":62.15,"f":1.64e-8},{"h":62.22,"f":1.22e-8},{"h":62.28,"f":1.41e-8},{"h":62.35,"f":1.22e-8},{"h":62.41,"f":1.64e-8},{"h":62.48,"f":1.41e-8},{"h":62.54,"f":1.72e-8},{"h":62.61,"f":2.09e-8},{"h":62.67,"f":1.8e-8},{"h":62.74,"f":1.48e-8},{"h":62.81,"f":1.72e-8},{"h":62.87,"f":1.8e-8},{"h":62.94,"f":1.48e-8},{"h":63.0,"f":1.41e-8},{"h":63.07,"f":1.28e-8},{"h":63.13,"f":1.48e-8},{"h":63.2,"f":1.99e-8},{"h":63.26,"f":1.34e-8},{"h":63.33,"f":1.1e-8},{"h":63.39,"f":1.41e-8},{"h":63.46,"f":1.28e-8},{"h":63.53,"f":1.34e-8},{"h":63.59,"f":1.22e-8},{"h":63.66,"f":1.1e-8},{"h":63.72,"f":1.0e-8},{"h":63.79,"f":1.22e-8},{"h":63.85,"f":8.2e-9},{"h":63.92,"f":1.0e-8},{"h":63.98,"f":1.41e-8},{"h":64.05,"f":1.22e-8},{"h":64.11,"f":8.2e-9},{"h":64.18,"f":6.75e-9},{"h":64.25,"f":8.6e-9},{"h":64.31,"f":6.1e-9},{"h":64.38,"f":7.45e-9},{"h":64.44,"f":5.54e-9},{"h":64.51,"f":7.8e-9},{"h":64.56,"f":3.56e-9},{"h":64.63,"f":6.75e-9},{"h":64.69,"f":9.06e-9},{"h":64.76,"f":1.0e-8},{"h":64.82,"f":8.2e-9},{"h":64.89,"f":1.22e-8},{"h":64.95,"f":7.45e-9},{"h":65.02,"f":1.0e-8},{"h":65.08,"f":7.45e-9},{"h":65.15,"f":1.22e-8},{"h":65.21,"f":8.2e-9},{"h":65.28,"f":1.0e-8},{"h":65.35,"f":7.45e-9},{"h":65.41,"f":4.55e-9},{"h":65.48,"f":9.06e-9},{"h":65.54,"f":6.42e-9},{"h":65.61,"f":4.55e-9},{"h":65.67,"f":8.2e-9},{"h":65.74,"f":1.0e-8},{"h":65.8,"f":1.16e-8},{"h":65.87,"f":1.0e-8},{"h":65.93,"f":1.1e-8},{"h":66.0,"f":8.2e-9},{"h":66.07,"f":1.05e-8},{"h":66.13,"f":1.1e-8},{"h":66.2,"f":9.06e-9},{"h":66.26,"f":7.45e-9},{"h":66.33,"f":8.2e-9},{"h":66.37,"f":4.33e-9},{"h":66.43,"f":6.75e-9},{"h":66.5,"f":7.8e-9},{"h":66.56,"f":6.1e-9},{"h":66.63,"f":7.45e-9},{"h":66.69,"f":6.75e-9},{"h":66.76,"f":7.8e-9},{"h":66.82,"f":6.42e-9},{"h":66.89,"f":8.2e-9},{"h":66.96,"f":7.45e-9},{"h":67.02,"f":8.6e-9},{"h":67.09,"f":7.45e-9},{"h":67.15,"f":9.06e-9},{"h":67.22,"f":8.2e-9},{"h":67.28,"f":9.06e-9},{"h":67.35,"f":1.0e-8},{"h":67.41,"f":1.28e-8},{"h":67.48,"f":8.2e-9},{"h":67.54,"f":1.05e-8},{"h":67.61,"f":7.8e-9},{"h":67.68,"f":6.1e-9},{"h":67.74,"f":1.0e-8},{"h":67.81,"f":8.6e-9},{"h":67.87,"f":1.1e-8},{"h":67.94,"f":9.06e-9},{"h":68.0,"f":1.05e-8},{"h":68.07,"f":1.0e-8},{"h":68.13,"f":8.6e-9},{"h":68.2,"f":1.1e-8},{"h":68.26,"f":1.22e-8},{"h":68.33,"f":1.64e-8},{"h":68.4,"f":1.41e-8},{"h":68.46,"f":1.48e-8},{"h":68.53,"f":1.22e-8},{"h":68.59,"f":1.28e-8},{"h":68.66,"f":1.0e-8},{"h":68.72,"f":1.05e-8},{"h":68.79,"f":1.1e-8},{"h":68.85,"f":1.34e-8},{"h":68.92,"f":1.22e-8},{"h":68.98,"f":1.41e-8},{"h":69.05,"f":1.48e-8},{"h":69.12,"f":1.28e-8},{"h":69.18,"f":1.64e-8},{"h":69.25,"f":1.8e-8},{"h":69.31,"f":1.41e-8},{"h":69.38,"f":1.48e-8},{"h":69.44,"f":1.34e-8},{"h":69.51,"f":1.56e-8},{"h":69.57,"f":1.34e-8},{"h":69.64,"f":1.48e-8},{"h":69.71,"f":1.41e-8},{"h":69.77,"f":1.56e-8},{"h":69.84,"f":1.41e-8},{"h":69.9,"f":1.48e-8},{"h":69.97,"f":1.34e-8},{"h":70.03,"f":1.56e-8},{"h":70.1,"f":1.64e-8},{"h":70.16,"f":1.8e-8},{"h":70.23,"f":1.56e-8},{"h":70.29,"f":1.48e-8},{"h":70.36,"f":1.41e-8},{"h":70.43,"f":1.48e-8},{"h":70.49,"f":1.28e-8},{"h":70.56,"f":1.41e-8},{"h":70.62,"f":1.28e-8},{"h":70.69,"f":1.34e-8},{"h":70.75,"f":1.22e-8},{"h":70.82,"f":1.41e-8},{"h":70.88,"f":1.28e-8},{"h":70.95,"f":1.22e-8},{"h":71.01,"f":1.34e-8},{"h":71.08,"f":1.16e-8},{"h":71.15,"f":1.28e-8},{"h":71.21,"f":1.22e-8},{"h":71.28,"f":1.34e-8},{"h":71.34,"f":1.16e-8},{"h":71.41,"f":1.0e-8},{"h":71.47,"f":1.1e-8}
    ]
  },
  "encoding": {
    "x": {
      "field": "h",
      "type": "quantitative",
      "scale": {"domain": [0, 72], "nice": false, "zero": false},
      "axis": {
        "values": [0, 8, 16, 24, 32, 40, 48, 56, 64, 72],
        "labelExpr": "datum.value % 24 == 0 ? ['00:00', 'Mar ' + (datum.value == 72 ? '10' : '0' + (7 + datum.value / 24))] : (datum.value % 24 == 8 ? '08:00' : '16:00')",
        "title": "Time (UTC)",
        "grid": false,
        "tickSize": -7,
        "labelPadding": 10,
        "labelLineHeight": 23,
        "titlePadding": 6
      }
    }
  },
  "layer": [
    {
      "data": {"name": "days"},
      "mark": {"type": "rule", "color": "black", "strokeWidth": 1.2},
      "encoding": {}
    },
    {
      "data": {"name": "red"},
      "mark": {"type": "line", "strokeWidth": 1.3, "clip": true},
      "encoding": {
        "y": {
          "field": "f",
          "type": "quantitative",
          "scale": {"type": "log", "domain": [1e-9, 1e-2]},
          "axis": {
            "orient": "left",
            "values": [2e-9,3e-9,4e-9,5e-9,6e-9,7e-9,8e-9,9e-9,1e-8,2e-8,3e-8,4e-8,5e-8,6e-8,7e-8,8e-8,9e-8,1e-7,2e-7,3e-7,4e-7,5e-7,6e-7,7e-7,8e-7,9e-7,1e-6,2e-6,3e-6,4e-6,5e-6,6e-6,7e-6,8e-6,9e-6,1e-5,2e-5,3e-5,4e-5,5e-5,6e-5,7e-5,8e-5,9e-5,1e-4,2e-4,3e-4,4e-4,5e-4,6e-4,7e-4,8e-4,9e-4,1e-3,2e-3,3e-3,4e-3,5e-3,6e-3,7e-3,8e-3,9e-3],
            "labelExpr": "abs(log(datum.value) / LN10 - round(log(datum.value) / LN10)) < 0.005 ? '10⁻' + ['⁰','¹','²','³','⁴','⁵','⁶','⁷','⁸','⁹'][-round(log(datum.value) / LN10)] : ''",
            "title": "Flux (Watts · m⁻²)",
            "grid": true,
            "gridColor": "#b0b0b0",
            "gridWidth": 1.2,
            "gridOpacity": {"condition": {"test": "abs(log(datum.value) / LN10 - round(log(datum.value) / LN10)) < 0.005", "value": 1}, "value": 0},
            "tickSize": {"condition": {"test": "abs(log(datum.value) / LN10 - round(log(datum.value) / LN10)) < 0.005", "value": -9}, "value": -5},
            "labelPadding": 15,
            "titlePadding": 12
          }
        },
        "color": {
          "datum": "GOES 1.0-8.0 Å",
          "type": "nominal",
          "scale": {"domain": ["GOES 1.0-8.0 Å", "GOES 0.5-4.0 Å"], "range": ["#ff0000", "#0000ff"]},
          "legend": {
            "orient": "none",
            "legendX": 751,
            "legendY": 7,
            "direction": "horizontal",
            "title": null,
            "symbolType": "stroke",
            "symbolSize": 841,
            "symbolStrokeWidth": 1.5,
            "labelFontSize": 14,
            "labelOffset": 11,
            "columnPadding": 22,
            "padding": 6,
            "strokeColor": "#cccccc",
            "fillColor": "white",
            "cornerRadius": 3
          }
        }
      }
    },
    {
      "data": {"name": "blue"},
      "mark": {"type": "line", "strokeWidth": 1.3, "clip": true},
      "encoding": {
        "y": {
          "field": "f",
          "type": "quantitative",
          "scale": {"type": "log", "domain": [1e-9, 1e-2]},
          "axis": {
            "orient": "right",
            "values": [2e-9,3e-9,3.1623e-9,4e-9,5e-9,6e-9,7e-9,8e-9,9e-9,1e-8,2e-8,3e-8,3.1623e-8,4e-8,5e-8,6e-8,7e-8,8e-8,9e-8,1e-7,2e-7,3e-7,3.1623e-7,4e-7,5e-7,6e-7,7e-7,8e-7,9e-7,1e-6,2e-6,3e-6,3.1623e-6,4e-6,5e-6,6e-6,7e-6,8e-6,9e-6,1e-5,2e-5,3e-5,3.1623e-5,4e-5,5e-5,6e-5,7e-5,8e-5,9e-5,1e-4,2e-4,3e-4,3.1623e-4,4e-4,5e-4,6e-4,7e-4,8e-4,9e-4,1e-3,2e-3,3e-3,4e-3,5e-3,6e-3,7e-3,8e-3,9e-3],
            "labelExpr": "abs(log(datum.value) / LN10 - floor(log(datum.value) / LN10) - 0.5) < 0.005 ? ['','','','X','M','C','B','A','',''][floor(-log(datum.value) / LN10)] : ''",
            "title": "GOES Class",
            "titleAngle": 270,
            "titleBaseline": "top",
            "grid": false,
            "tickSize": {"condition": {"test": "abs(log(datum.value) / LN10 - round(log(datum.value) / LN10)) < 0.005", "value": -9}, "value": -5},
            "labelPadding": 10,
            "titlePadding": 6
          }
        },
        "color": {"datum": "GOES 0.5-4.0 Å", "type": "nominal"}
      }
    },
    {
      "data": {"name": "note"},
      "mark": {"type": "text", "fontSize": 11, "color": "black", "align": "center", "baseline": "middle", "font": "DejaVu Sans"},
      "encoding": {
        "y": {"field": "f", "type": "quantitative", "scale": {"type": "log", "domain": [1e-9, 1e-2]}, "axis": null},
        "text": {"field": "label"}
      }
    }
  ],
  "resolve": {"axis": {"y": "independent"}},
  "config": {
    "font": "DejaVu Sans",
    "view": {"stroke": "black", "strokeWidth": 1.5},
    "axis": {
      "labelFont": "DejaVu Sans",
      "titleFont": "DejaVu Sans",
      "labelFontSize": 20,
      "titleFontSize": 20,
      "labelColor": "black",
      "titleColor": "black",
      "titleFontWeight": "normal",
      "tickColor": "black",
      "tickWidth": 1,
      "domain": false,
      "labelOverlap": false,
      "labelFlush": false
    },
    "legend": {"labelFont": "DejaVu Sans", "labelColor": "black"}
  }
}
